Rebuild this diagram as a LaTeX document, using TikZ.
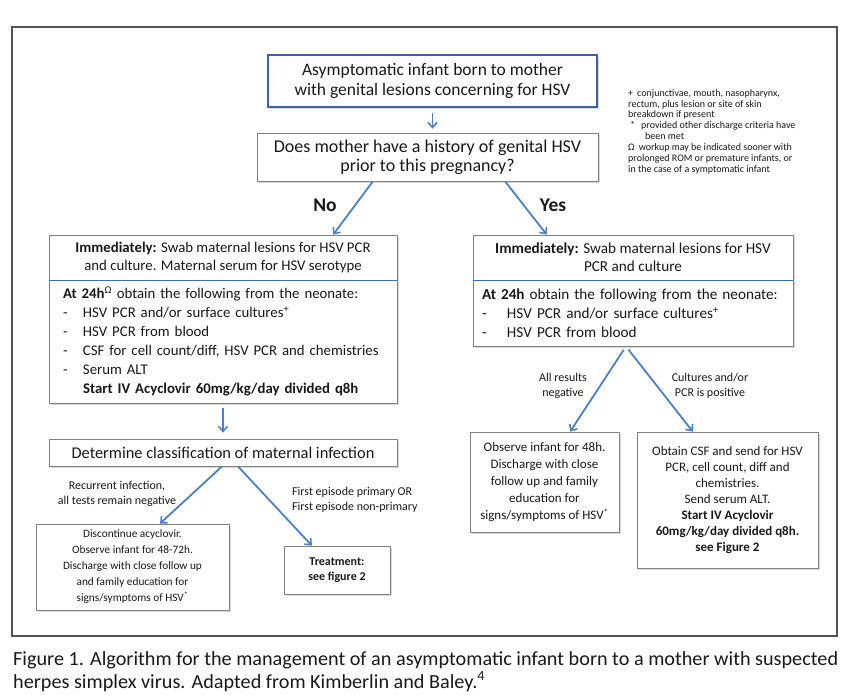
\documentclass[tikz,border=0pt]{standalone}
\usepackage{fontspec}
\setmainfont{Carlito}
\usetikzlibrary{arrows.meta,shadows,calc}
\definecolor{arrowblue}{RGB}{79,129,189}
\definecolor{topblue}{RGB}{62,100,158}
\definecolor{boxgray}{RGB}{130,130,130}
\definecolor{divblue}{RGB}{68,108,168}
\definecolor{framegray}{RGB}{85,85,85}
\definecolor{txt}{RGB}{25,25,25}
\newlength\capw
\begin{document}
\settowidth\capw{\fontsize{20}{22}\selectfont Figure 1. Algorithm for the management of an asymptomatic infant born to a mother with suspected}%
\pgfmathsetmacro\capsx{825/\the\capw}%
\begin{tikzpicture}[x=1pt,y=-1pt,
  every node/.style={text=txt},
  box/.style={draw=boxgray, line width=0.8pt, fill=white, inner sep=0pt, align=center,
    drop shadow={shadow xshift=1.5pt, shadow yshift=-1.5pt, opacity=0.3}},
  flow/.style={draw=arrowblue, line width=1.8pt, -{Straight Barb[length=5pt,width=9pt,line width=1.6pt]}},
  lbl/.style={font=\fontsize{12}{14.5}\selectfont, align=center, inner sep=0pt},
  yn/.style={font=\fontsize{19.5}{22}\selectfont\bfseries, inner sep=0pt}
]
\useasboundingbox (0,0) rectangle (850,694);
\fill[white] (0,0) rectangle (850,694);
% outer frame
\draw[framegray, line width=1.3pt] (12,27) rectangle (837,636);

% top box
\node[box, draw=topblue, line width=1.5pt, minimum width=329pt, minimum height=52pt,
  font=\fontsize{17.5}{20}\selectfont] (top) at (432.5,81)
  {Asymptomatic infant born to mother\\with genital lesions concerning for HSV};

% question box
\node[box, minimum width=341pt, minimum height=48pt,
  font=\fontsize{18}{19}\selectfont] (q) at (427.5,157)
  {Does mother have a history of genital HSV\\prior to this pregnancy?};

% notes
\node[anchor=north west, align=left, inner sep=0pt, font=\fontsize{10}{10.9}\selectfont] (notes) at (628,89)
  {+\hspace{4pt}conjunctivae, mouth, nasopharynx,\\
   rectum, plus lesion or site of skin\\
   breakdown if present\\
   \hspace*{2pt}*\hspace{6pt}provided other discharge criteria have\\
   \hspace*{17pt}been met\\
   Ω\hspace{4pt}workup may be indicated sooner with\\
   prolonged ROM or premature infants, or\\
   in the case of a symptomatic infant};

% left big box
\node[box, minimum width=348pt, minimum height=45pt,
  font=\fontsize{14.8}{18}\selectfont] (ltop) at (223,257.5)
  {\textbf{Immediately:} Swab maternal lesions for HSV PCR\\and culture. Maternal serum for HSV serotype};
\node[box, minimum width=348pt, minimum height=123pt, inner xsep=14pt, text width=320pt, align=left,
  font=\fontsize{14.8}{19}\selectfont] (lbot) at (223,341.5)
  {\textbf{At 24h}\textsuperscript{Ω} obtain the following from the neonate:\\
   \makebox[20pt][l]{-}HSV PCR and/or surface cultures\textsuperscript{+}\\
   \makebox[20pt][l]{-}HSV PCR from blood\\
   \makebox[20pt][l]{-}CSF for cell count/diff, HSV PCR and chemistries\\
   \makebox[20pt][l]{-}Serum ALT\\
   \hspace*{20pt}\textbf{Start IV Acyclovir 60mg/kg/day divided q8h}};
\draw[divblue, line width=1.3pt] (ltop.south west) -- (ltop.south east);

% right big box
\node[box, minimum width=320pt, minimum height=45pt,
  font=\fontsize{15.2}{18}\selectfont] (rtop) at (633,257.5)
  {\textbf{Immediately:} Swab maternal lesions for HSV\\PCR and culture};
\node[box, minimum width=320pt, minimum height=66pt, inner xsep=9pt, text width=302pt, align=left,
  font=\fontsize{15.2}{19}\selectfont] (rbot) at (633,313)
  {\textbf{At 24h} obtain the following from the neonate:\\
   \makebox[25pt][l]{-}HSV PCR and/or surface cultures\textsuperscript{+}\\
   \makebox[25pt][l]{-}HSV PCR from blood};
\draw[divblue, line width=1.3pt] (rtop.south west) -- (rtop.south east);

% determine box
\node[box, minimum width=348pt, minimum height=27pt,
  font=\fontsize{16.4}{18}\selectfont] (det) at (223,452.5)
  {Determine classification of maternal infection};

% discontinue box
\node[box, minimum width=193pt, minimum height=86pt,
  font=\fontsize{11.3}{16}\selectfont] (disc) at (132.5,567)
  {Discontinue acyclovir.\\Observe infant for 48-72h.\\Discharge with close follow up\\and family education for\\signs/symptoms of HSV\textsuperscript{*}};

% treatment box
\node[box, minimum width=106pt, minimum height=48pt,
  font=\fontsize{12}{15}\selectfont\bfseries] (treat) at (337,570)
  {Treatment:\\see figure 2};

% observe box
\node[box, minimum width=149pt, minimum height=100pt,
  font=\fontsize{13}{17}\selectfont] (obs) at (544.5,482)
  {Observe infant for 48h.\\Discharge with close\\follow up and family\\education for\\signs/symptoms of HSV\textsuperscript{*}};

% obtain box
\node[box, minimum width=181pt, minimum height=136pt,
  font=\fontsize{13}{16}\selectfont] (obt) at (727.5,500)
  {Obtain CSF and send for HSV\\PCR, cell count, diff and\\chemistries.\\Send serum ALT.\\\textbf{Start IV Acyclovir}\\\textbf{60mg/kg/day divided q8h.}\\\textbf{see Figure 2}};

% connectors
\draw[flow, line width=1.5pt, shorten <=5pt, shorten >=4pt] (top.south) -- (top.south |- q.north);
\draw[flow] ($(q.south west)!0.34!(q.south east)$) -- ($(ltop.north west)!0.816!(ltop.north east)$);
\draw[flow] ($(q.south west)!0.727!(q.south east)$) -- ($(rtop.north west)!0.231!(rtop.north east)$);
\draw[flow, shorten <=5pt, shorten >=6pt] (lbot.south) -- (lbot.south |- det.north);
\draw[flow] ($(det.south west)!0.497!(det.south east)$) -- ($(disc.north west)!0.642!(disc.north east)$);
\draw[flow] ($(det.south west)!0.543!(det.south east)$) -- ($(treat.north west)!0.264!(treat.north east)$);
\draw[flow, shorten <=4pt] ($(rbot.south west)!0.478!(rbot.south east)$) -- ($(obs.north west)!0.671!(obs.north east)$);
\draw[flow, shorten <=4pt] ($(rbot.south west)!0.478!(rbot.south east)$) -- ($(obt.north west)!0.309!(obt.north east)$);

% labels
\node[yn] (no) at (325,205) {No};
\node[yn] (yes) at (553,205) {Yes};
\node[lbl] (recur) at (117,494) {Recurrent infection,\\all tests remain negative};
\node[lbl, anchor=west, align=left] (first) at (292,500) {First episode primary OR\\First episode non-primary};
\node[lbl] (allneg) at (563,386) {All results\\negative};
\node[lbl] (cultpos) at (710,386) {Cultures and/or\\PCR is positive};

% caption
\node[anchor=base west, inner sep=0pt, font=\fontsize{20}{22}\selectfont] (cap1) at (13,665)
  {\scalebox{\capsx}[1]{Figure 1. Algorithm for the management of an asymptomatic infant born to a mother with suspected}};
\node[anchor=base west, inner sep=0pt, font=\fontsize{20}{22}\selectfont] (cap2) at (13,688.5)
  {\scalebox{\capsx}[1]{herpes simplex virus. Adapted from Kimberlin and Baley.\smash{\textsuperscript{4}}}};
\end{tikzpicture}
\end{document}
